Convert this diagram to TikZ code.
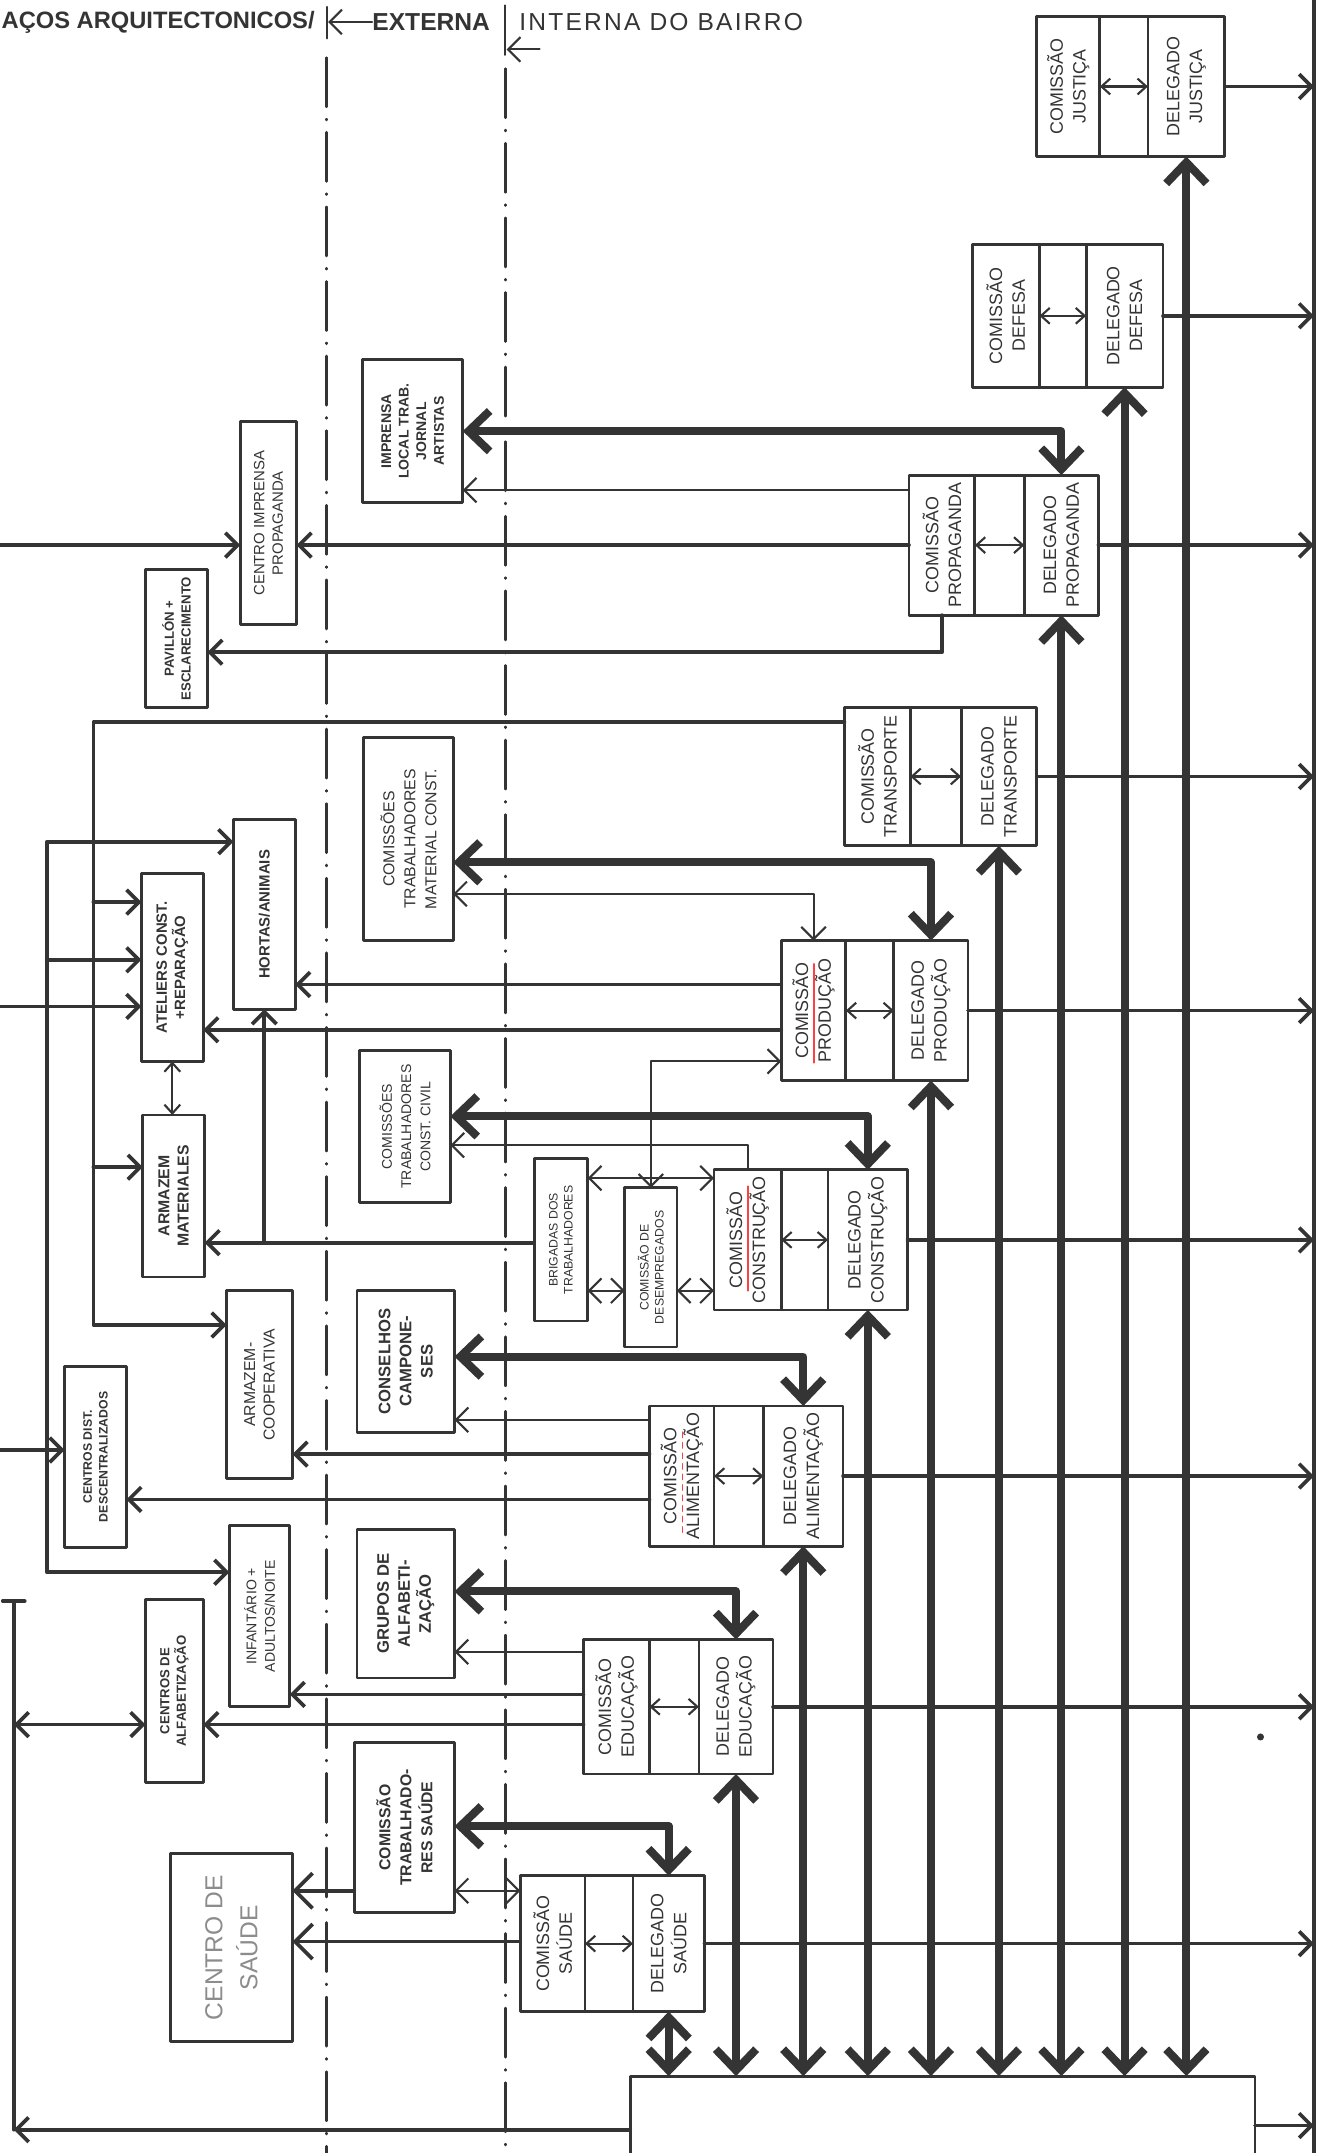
\documentclass[tikz,border=0pt]{standalone}
\usepackage{fontspec}
\setmainfont{Liberation Sans}
\usetikzlibrary{arrows.meta,positioning,fit}
\newcommand\un{0.0275cm}
\begin{document}
\begin{tikzpicture}[x=0.0275cm, y=-0.0275cm, line join=round, line cap=round,
    caixa/.style={draw=tinta, line width=1.6pt, inner sep=0pt, outer sep=0pt},
    rot/.style={rotate=90, align=center, inner sep=0pt, text=tinta},
    fina/.style={draw=tinta, line width=1.2pt},
    media/.style={draw=tinta, line width=2.1pt},
    grossa/.style={draw=tinta, line width=4.6pt,
      {Straight Barb[length=12pt,width=23pt]}-{Straight Barb[length=12pt,width=23pt]}},
    seta/.style={-{Straight Barb[length=7pt,width=14pt]}},
    setas/.style={{Straight Barb[length=7pt,width=14pt]}-{Straight Barb[length=7pt,width=14pt]}},
    setag/.style={-{Straight Barb[length=10pt,width=20pt]}},
    mini/.style={{Straight Barb[length=5pt,width=9pt]}-{Straight Barb[length=5pt,width=9pt]}},
    eixo/.style={draw=tinta, line width=1.5pt, dash pattern=on 28pt off 7pt on 0.5pt off 7pt},
  ]
  \definecolor{tinta}{RGB}{52, 52, 52}

  \fill[white] (0,0) rectangle (966,1568);
  \useasboundingbox (0,0) rectangle (966,1568);

  \node[anchor=west, inner sep=0pt, text=tinta, font=\bfseries\fontsize{13.5}{16}\selectfont] (espacos) at (1,16) {AÇOS ARQUITECTONICOS/};
  \node[anchor=west, inner sep=0pt, text=tinta, font=\bfseries\fontsize{14}{16}\selectfont] (externa) at (271,16) {EXTERNA};
  \node[anchor=west, inner sep=0pt, text=tinta, font=\fontsize{14}{16}\selectfont\addfontfeature{LetterSpace=9}] (interna) at (378,16) {INTERNA DO BAIRRO};
  \draw[fina, seta] (externa.west) -- (239,16);
  \draw[fina] (238,5) -- (238,28);
  \draw[fina] (368,4) -- (368,40);
  \draw[fina, seta] (393,36) -- (369,36);

  \draw[eixo] (238,42) -- (238,1568);
  \draw[eixo] (368,50) -- (368,1568);
  \coordinate (dir) at (957,0);
  \draw[media] (dir) -- (957,1568);
  \node[caixa, fit={(459,1512) (914,1610)}] (base) {};

  \foreach \nm/\px/\py/\wa/\wb/\wc/\hh/\tema in {
      Jus/755/12/46/35/56/102/JUSTIÇA,
      Def/708/178/49/34/56/104/DEFESA,
      Prop/662/346/48/36/54/102/PROPAGANDA,
      Tra/615/515/48/37/55/101/TRANSPORTE,
      Prod/569/685/47/35/54/102/PRODUÇÃO,
      Con/520/852/49/34/58/102/CONSTRUÇÃO,
      Ali/473/1024/47/36/58/102/ALIMENTAÇÃO,
      Edu/425/1194/48/36/54/98/EDUCAÇÃO,
      Sau/379/1366/47/35/52/99/SAÚDE} {
    \node[caixa, fit={(\px,\py) (\px+\wa,\py+\hh)}] (com\nm) {};
    \node[caixa, minimum width=\wb*\un, minimum height=\hh*\un, right=0pt of com\nm] (mid\nm) {};
    \node[caixa, minimum width=\wc*\un, minimum height=\hh*\un, right=0pt of mid\nm] (del\nm) {};
    \node[rot, font=\fontsize{10.2}{13}\selectfont] (tc\nm) at (com\nm) {COMISSÃO\\\tema};
    \node[rot, font=\fontsize{10.2}{13}\selectfont] (td\nm) at (del\nm) {DELEGADO\\\tema};
    \draw[fina, mini] (com\nm.east) -- (del\nm.west);
    \draw[media, seta] (del\nm.east) -- (del\nm.east -| dir);
    \draw[grossa] (del\nm.south) -- (del\nm.south |- base.north);
  }
  \draw[red!75, line width=1pt] (593,702) -- (593,774);
  \draw[red!75, line width=1pt] (545,864) -- (545,940);
  \draw[red!75, line width=1pt, dashed] (497,1043) -- (497,1119);

  \node[caixa, fit={(264,262) (337,366)}] (imprensa) {};
  \node[rot, font=\bfseries\fontsize{8}{10}\selectfont] (tImprensa) at (imprensa) {IMPRENSA\\LOCAL TRAB.\\JORNAL\\ARTISTAS};
  \node[caixa, fit={(175,307) (216,455)}] (ctrImp) {};
  \node[rot, font=\fontsize{8.5}{10.5}\selectfont] (tCtrImp) at (ctrImp) {CENTRO IMPRENSA\\PROPAGANDA};
  \node[caixa, fit={(106,415) (151,515)}] (pavilhao) {};
  \node[rot, font=\bfseries\fontsize{7.5}{9.5}\selectfont] (tPavilhao) at (pavilhao) {PAVILLÓN +\\ESCLARECIMENTO};
  \node[caixa, fit={(265,537) (330,685)}] (matConst) {};
  \node[rot, font=\fontsize{9}{12}\selectfont] (tMatConst) at (matConst) {COMISSÕES\\TRABALHADORES\\MATERIAL CONST.};
  \node[caixa, fit={(170,597) (215,735)}] (hortas) {};
  \node[rot, font=\bfseries\fontsize{8.5}{10}\selectfont] (tHortas) at (hortas) {HORTAS/ANIMAIS};
  \node[caixa, fit={(103,636) (148,773)}] (ateliers) {};
  \node[rot, font=\bfseries\fontsize{8.5}{10.5}\selectfont] (tAteliers) at (ateliers) {ATELIERS CONST.\\+REPARAÇÃO};
  \node[caixa, fit={(104,812) (149,930)}] (armMat) {};
  \node[rot, font=\bfseries\fontsize{9}{11}\selectfont] (tArmMat) at (armMat) {ARMAZEM\\MATERIALES};
  \node[caixa, fit={(262,765) (328,876)}] (civil) {};
  \node[rot, font=\fontsize{8}{11}\selectfont] (tCivil) at (civil) {COMISSÕES\\TRABALHADORES\\CONST. CIVIL};
  \node[caixa, fit={(389,844) (428,962)}] (brigadas) {};
  \node[rot, font=\fontsize{7}{8.5}\selectfont] (tBrigadas) at (brigadas) {BRIGADAS DOS\\TRABALHADORES};
  \node[caixa, fit={(455,865) (493,981)}] (desemp) {};
  \node[rot, font=\fontsize{7}{8.5}\selectfont] (tDesemp) at (desemp) {COMISSÃO DE\\DESEMPREGADOS};
  \node[caixa, fit={(165,940) (213,1077)}] (armCoop) {};
  \node[rot, font=\fontsize{9}{11}\selectfont] (tArmCoop) at (armCoop) {ARMAZEM-\\COOPERATIVA};
  \node[caixa, fit={(260,940) (331,1043)}] (conselhos) {};
  \node[rot, font=\bfseries\fontsize{9.5}{12}\selectfont] (tConselhos) at (conselhos) {CONSELHOS\\CAMPONE-\\SES};
  \node[caixa, fit={(47,995) (92,1127)}] (centDist) {};
  \node[rot, font=\bfseries\fontsize{7}{9}\selectfont] (tCentDist) at (centDist) {CENTROS DIST.\\DESCENTRALIZADOS};
  \node[caixa, fit={(167,1111) (211,1243)}] (infant) {};
  \node[rot, font=\fontsize{8}{10.5}\selectfont] (tInfant) at (infant) {INFANTÁRIO +\\ADULTOS/NOITE};
  \node[caixa, fit={(260,1114) (331,1222)}] (grupos) {};
  \node[rot, font=\bfseries\fontsize{9.5}{12}\selectfont] (tGrupos) at (grupos) {GRUPOS DE\\ALFABETI-\\ZAÇÃO};
  \node[caixa, fit={(106,1165) (148,1298)}] (alfab) {};
  \node[rot, font=\bfseries\fontsize{7.5}{9.5}\selectfont] (tAlfab) at (alfab) {CENTROS DE\\ALFABETIZAÇÃO};
  \node[caixa, fit={(258,1269) (331,1393)}] (trabSau) {};
  \node[rot, font=\bfseries\fontsize{9}{12}\selectfont] (tTrabSau) at (trabSau) {COMISSÃO\\TRABALHADO-\\RES SAÚDE};
  \node[caixa, fit={(124,1350) (213,1487)}] (centSau) {};
  \node[rot, font=\fontsize{14}{20}\selectfont, text=black!45] (tCentSau) at (centSau) {CENTRO DE\\SAÚDE};

  \draw[grossa] (delProp.north) |- (imprensa.east);
  \draw[fina, seta] (comProp.west |- 0,357) -- (imprensa.east |- 0,357);
  \draw[media, seta] (0,397) -- (ctrImp.west |- 0,397);
  \draw[media, seta] (comProp.west) -- (comProp.west -| ctrImp.east);
  \draw[media, seta] (comProp.south) |- (pavilhao.east |- 0,475);

  \draw[media, seta] (comTra.west |- 0,526) -| (68,965) -- (armCoop.west |- 0,965);
  \draw[media, setas] (hortas.west |- 0,613) -- (34,613) |- (infant.west |- 0,1145);
  \draw[media, seta] (68,657) -- (ateliers.west |- 0,657);
  \draw[media, seta] (34,699) -- (ateliers.west |- 0,699);
  \draw[media, seta] (0,733) -- (ateliers.west |- 0,733);
  \draw[media, seta] (68,850) -- (armMat.west |- 0,850);
  \draw[media, seta] (0,1056) -- (centDist.west |- 0,1056);
  \draw[fina, mini] (ateliers.south) -- (ateliers.south |- armMat.north);

  \draw[grossa] (delProd.north) |- (matConst.east |- 0,628);
  \draw[fina, setas] (comProd.north) |- (matConst.east |- 0,651);
  \draw[media, seta] (comProd.west |- 0,717) -- (hortas.east |- 0,717);
  \draw[media, seta] (comProd.west |- 0,750) -- (ateliers.east |- 0,750);
  \draw[media, seta] (hortas.south |- 0,750) -- (hortas.south);
  \draw[media, seta] (hortas.south |- 0,750) |- (armMat.east |- 0,905);
  \draw[media] (hortas.south |- 0,905) -- (brigadas.west |- 0,905);
  \draw[fina, setas] (comProd.west |- 0,773) -| (desemp.north);

  \draw[grossa] (delCon.north) |- (civil.east |- 0,813);
  \draw[fina, seta] (comCon.north) |- (civil.east |- 0,834);
  \draw[fina, setas] (comCon.west |- 0,858) -- (brigadas.east |- 0,858);
  \draw[fina, setas] (brigadas.east |- 0,940) -- (desemp.west |- 0,940);
  \draw[fina, setas] (desemp.east |- 0,940) -- (comCon.west |- 0,940);

  \draw[grossa] (delAli.north) |- (conselhos.east |- 0,988);
  \draw[fina, seta] (comAli.west |- 0,1034) -- (conselhos.east |- 0,1034);
  \draw[media, seta] (comAli.west |- 0,1059) -- (armCoop.east |- 0,1059);
  \draw[media, seta] (comAli.west |- 0,1092) -- (centDist.east |- 0,1092);

  \draw[grossa] (delEdu.north) |- (grupos.east |- 0,1159);
  \draw[fina, seta] (comEdu.west |- 0,1203) -- (grupos.east |- 0,1203);
  \draw[media, seta] (comEdu.west |- 0,1234) -- (infant.east |- 0,1234);
  \draw[media, seta] (comEdu.west |- 0,1256) -- (alfab.east |- 0,1256);
  \draw[media, setas] (alfab.west |- 0,1256) -- (10,1256);
  \draw[media] (10,1166) -- (10,1551);
  \draw[media] (2,1166) -- (18,1166);

  \draw[grossa] (delSau.north) |- (trabSau.east |- 0,1330);
  \draw[fina, setas] (trabSau.east |- 0,1377) -- (comSau.west |- 0,1377);
  \draw[media, setag] (trabSau.west |- 0,1377) -- (centSau.east |- 0,1377);
  \draw[media, setag] (comSau.west |- 0,1414) -- (centSau.east |- 0,1414);

  \draw[media, seta] (base.west |- 0,1551) -- (10,1551);
  \draw[media, seta] (base.east |- 0,1548) -- (dir |- 0,1548);
  \fill[tinta] (918,1265) circle (2pt);
\end{tikzpicture}
\end{document}
